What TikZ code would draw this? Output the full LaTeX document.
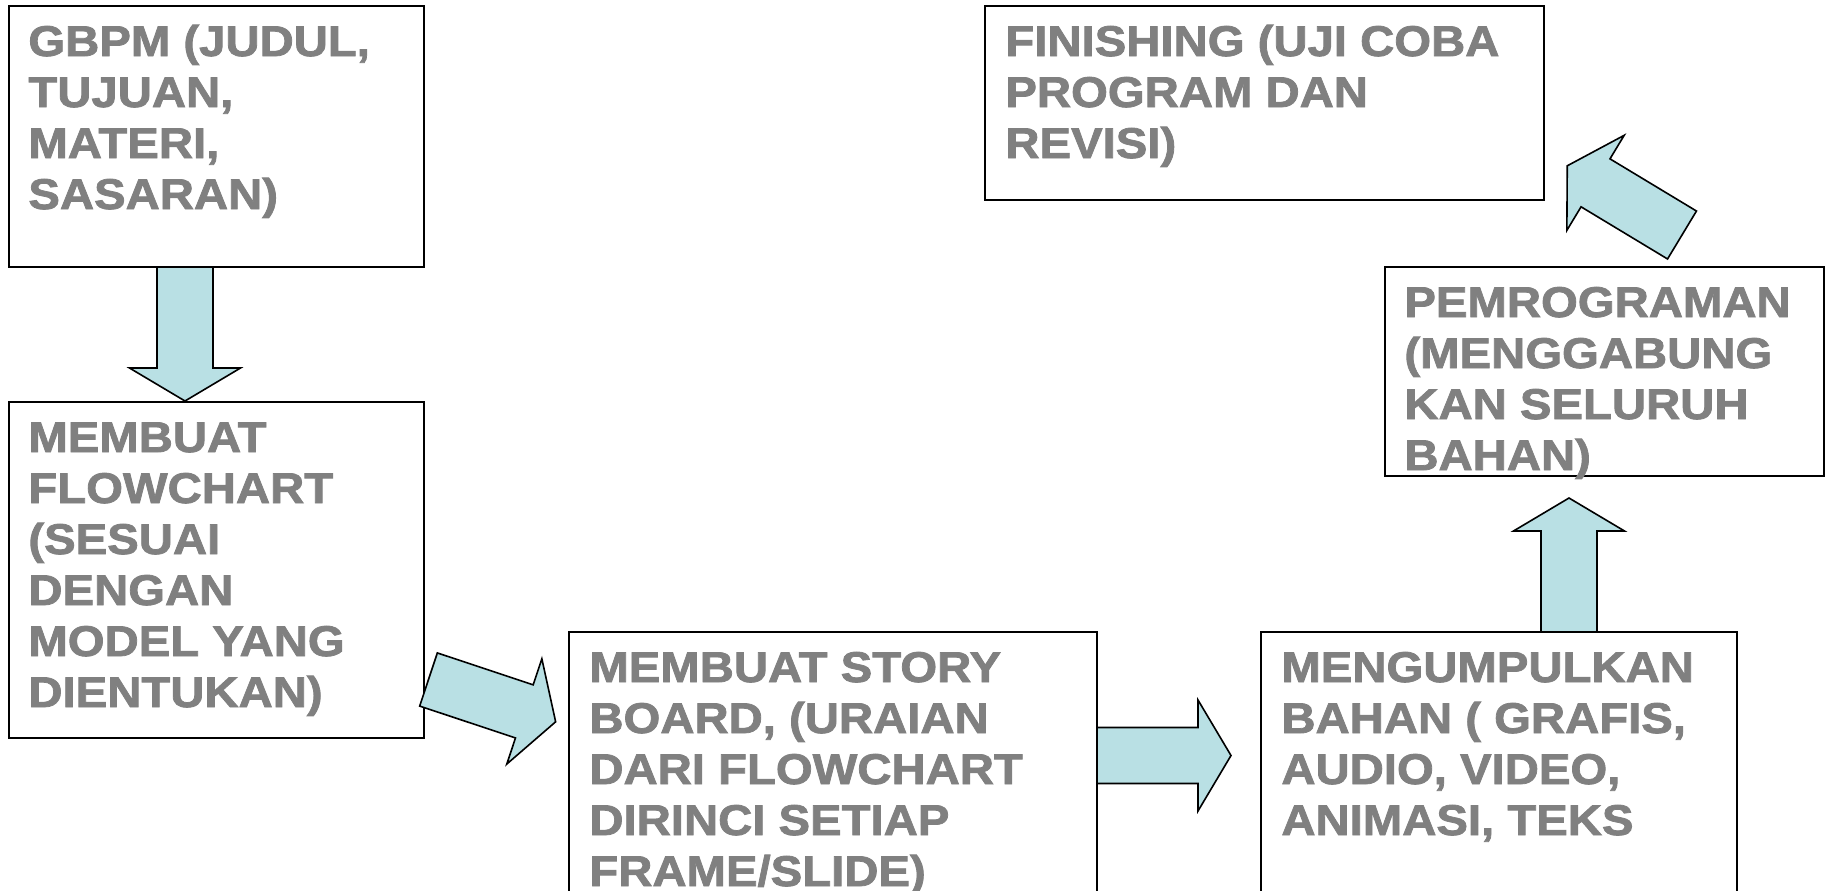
\documentclass[tikz,border=0pt]{standalone}
\usepackage{fontspec}
\newfontfamily\boxfont{Liberation Sans}[FakeStretch=1.1, FakeBold=1.8]
\usetikzlibrary{calc,fit}
\definecolor{txtgray}{RGB}{128,128,128}
\definecolor{arrowfill}{RGB}{185,224,228}
\tikzset{
  stepbox/.style={draw=black, line width=1pt, fill=white, inner sep=0pt},
  steptext/.style={anchor=base west, inner sep=0pt, text=txtgray,
    font=\boxfont\bfseries\fontsize{21.5pt}{25.5pt}\selectfont},
  blockarrow/.pic={
    \draw[fill=arrowfill, draw=black, line width=0.8pt]
      (0,-28) -- (101,-28) -- (101,-55.5) -- (134,0)
      -- (101,55.5) -- (101,28) -- (0,28) -- cycle;}
}
% left-aligned multi-line label whose baseline is its first line
\newcommand{\steplines}[1]{\parbox[t]{320pt}{\raggedright #1}}

\begin{document}
\begin{tikzpicture}[x=0.5pt,y=-0.5pt]
\useasboundingbox (0,0) rectangle (1833,890);
\clip (0,0) rectangle (1833,890);

% process boxes
\node[stepbox, fit={(9,6) (424,267)}] (gbpm) {};
\node[stepbox, fit={(9,402) (424,738)}] (flow) {};
\node[stepbox, fit={(569,632) (1097,960)}] (story) {};
\node[stepbox, fit={(1261,632) (1737,960)}] (bahan) {};
\node[stepbox, fit={(1385,267) (1824,476)}] (prog) {};
\node[stepbox, fit={(985,6) (1544,200)}] (finish) {};

% block arrows between the steps (tail centre, direction)
\coordinate (t1) at (185,267);
\coordinate (t2) at (428.5,679.5);
\coordinate (t3) at (1097,755.5);
\coordinate (t4) at (1569,632);
\coordinate (t5) at (1682,235);
\pic[rotate=-90]   at (t1) {blockarrow};
\pic[rotate=-18.4] at (t2) {blockarrow};
\pic[rotate=0]     at (t3) {blockarrow};
\pic[rotate=90]    at (t4) {blockarrow};
\pic[rotate=148.9] at (t5) {blockarrow};

% step texts
\node[steptext] (gbpmtxt) at ($(gbpm.north west)+(20,51)$)
  {\steplines{GBPM (JUDUL,\\TUJUAN,\\MATERI,\\SASARAN)}};
\node[steptext] (flowtxt) at ($(flow.north west)+(20,51)$)
  {\steplines{MEMBUAT\\FLOWCHART\\(SESUAI\\DENGAN\\MODEL YANG\\DIENTUKAN)}};
\node[steptext] (storytxt) at ($(story.north west)+(21,51)$)
  {\steplines{MEMBUAT STORY\\BOARD, (URAIAN\\DARI FLOWCHART\\DIRINCI SETIAP\\FRAME/SLIDE)}};
\node[steptext] (bahantxt) at ($(bahan.north west)+(21,51)$)
  {\steplines{MENGUMPULKAN\\BAHAN ( GRAFIS,\\AUDIO, VIDEO,\\ANIMASI, TEKS}};
\node[steptext] (progtxt) at ($(prog.north west)+(20,51)$)
  {\steplines{PEMROGRAMAN\\(MENGGABUNG\\KAN SELURUH\\BAHAN)}};
\node[steptext] (finishtxt) at ($(finish.north west)+(21,51)$)
  {\steplines{FINISHING (UJI COBA\\PROGRAM DAN\\REVISI)}};
\end{tikzpicture}
\end{document}
